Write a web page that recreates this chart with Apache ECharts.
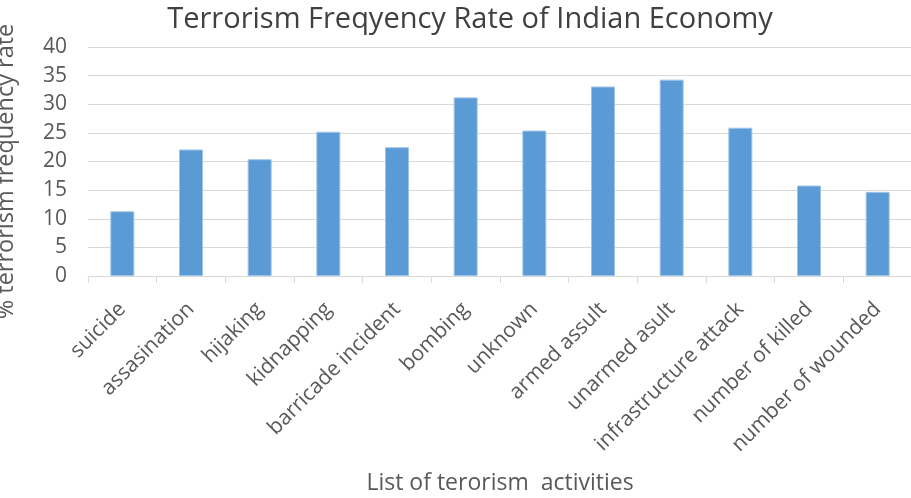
<!DOCTYPE html>
<html>
<head>
<meta charset="utf-8">
<script src="https://cdn.jsdelivr.net/npm/echarts@6/dist/echarts.min.js"></script>
<style>
  html, body { margin: 0; padding: 0; background: #ffffff; }
  #chart { width: 911px; height: 498px; }
</style>
</head>
<body>
<div id="chart"></div>
<script>
// Activity categories along the x axis
const categories = [
  'suicide', 'assasination', 'hijaking', 'kidnapping', 'barricade incident',
  'bombing', 'unknown', 'armed assult', 'unarmed asult', 'infrastructure attack',
  'number of killed', 'number of wounded'
];

// Frequency rate (%) for each activity
const frequencyRate = [11.3, 22.1, 20.4, 25.2, 22.5, 31.2, 25.4, 33.1, 34.3, 25.9, 15.8, 14.7];

// Value axis range
const yMin = 0;
const yMax = 40;
const yStep = 5;

const FONT = '"Open Sans", sans-serif';
const TEXT = '#595959';

const chart = echarts.init(document.getElementById('chart'), null, { renderer: 'canvas' });

chart.setOption({
  animation: false,
  backgroundColor: '#ffffff',
  title: {
    text: 'Terrorism Freqyency Rate of Indian Economy',
    left: 465,
    top: 0,
    textAlign: 'center',
    textStyle: { fontFamily: FONT, fontSize: 29, fontWeight: 'normal', color: '#404040' }
  },
  grid: {
    left: 88, right: -1, top: 47, bottom: 222,
    containLabel: false,
    outerBoundsMode: 'none'
  },
  xAxis: {
    type: 'category',
    data: categories,
    name: 'List of terorism  activities',
    nameLocation: 'middle',
    nameGap: 196,
    nameTextStyle: { fontFamily: FONT, fontSize: 23, color: TEXT },
    axisLine: { lineStyle: { color: '#d9d9d9', width: 1 } },
    axisTick: { show: true, alignWithLabel: false, length: 7, lineStyle: { color: '#d9d9d9' } },
    axisLabel: {
      rotate: 45, margin: 30, interval: 0,
      fontFamily: FONT, fontSize: 21, color: TEXT
    }
  },
  yAxis: {
    type: 'value',
    min: yMin, max: yMax, interval: yStep,
    name: '% terrorism frequency rate',
    nameLocation: 'middle',
    nameRotate: 90,
    nameGap: 70,
    nameTextStyle: { fontFamily: FONT, fontSize: 23.5, color: TEXT, padding: [0, 20, 0, 0] },
    axisLine: { show: false },
    axisTick: { show: false },
    splitLine: { lineStyle: { color: '#d9d9d9', width: 1 } },
    axisLabel: { margin: 21, fontFamily: FONT, fontSize: 21, color: TEXT }
  },
  series: [{
    type: 'bar',
    data: frequencyRate,
    barWidth: 24,
    itemStyle: { color: '#5b9bd5', borderColor: '#9ec3e8', borderWidth: 1 }
  }]
});
</script>
</body>
</html>
